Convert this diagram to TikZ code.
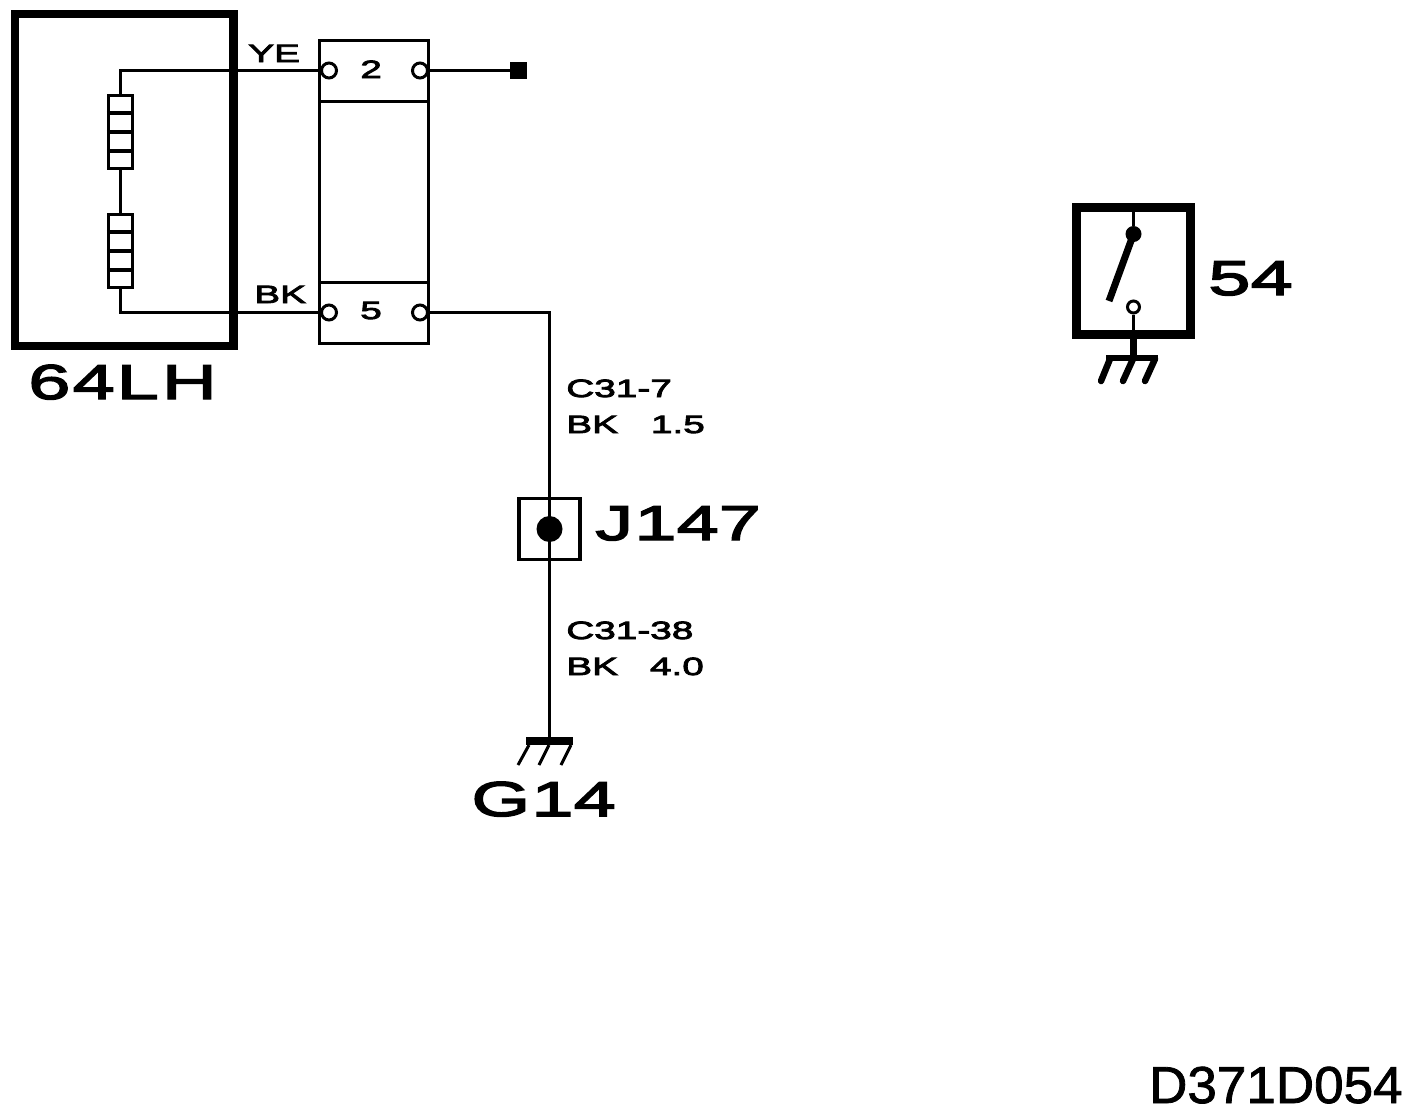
\documentclass[tikz,border=0pt]{standalone}
\usepackage{fontspec}
\setmainfont{Liberation Sans}
\newfontfamily\widefont[FakeStretch=1.55,FakeBold=3]{Liberation Sans}
\newfontfamily\smallfont[FakeStretch=1.55,FakeBold=3.5]{Liberation Sans}
\newfontfamily\numberfont[FakeStretch=1.02,FakeBold=1.5]{Liberation Sans}
\usetikzlibrary{calc}

\begin{document}
\begin{tikzpicture}[x=1pt,y=-1pt,line cap=butt,semithick]
  \tikzstyle{wire}=[line width=3pt]
  \tikzstyle{thick box}=[rectangle,draw=black,fill=none,line width=8.5pt,inner sep=0pt]
  \tikzstyle{resistor}=[rectangle,draw=black,fill=white,line width=3.3pt,inner sep=0pt,
                        minimum width=24pt,minimum height=73pt]
  \tikzstyle{block}=[rectangle,draw=black,fill=white,line width=3pt,inner sep=0pt,
                     minimum width=109pt,minimum height=303pt]
  \tikzstyle{pin}=[circle,draw=black,fill=white,line width=3pt,inner sep=0pt,minimum size=15pt]
  \tikzstyle{small label}=[anchor=base west,inner sep=0pt,text depth=0pt,
                           font=\smallfont\fontsize{25}{25}\selectfont]
  \tikzstyle{big label}=[anchor=base west,inner sep=0pt,text depth=0pt,
                         font=\widefont\fontsize{49}{49}\selectfont]

  \useasboundingbox (0,0) rectangle (1408,1114);

  % module with the two resistors
  \node[thick box,minimum width=218.5pt,minimum height=332pt] (module) at (124,180) {};
  \node[resistor] (resA) at (120.5,132) {};
  \node[resistor] (resB) at (120.5,251) {};
  \foreach \res in {resA,resB}
    \foreach \f in {0.25,0.5,0.75}
      \draw[line width=3.3pt] ($(\res.north west)!\f!(\res.south west)$) -- ($(\res.north east)!\f!(\res.south east)$);
  \node[big label] (moduleName) at (28,399) {6\kern2pt 4\kern2pt L\kern3pt H};

  % terminal block
  \node[block] (term) at (373.5,191.5) {};
  \draw[line width=3pt] (319,101) coordinate (divA) -- (divA -| term.east);
  \draw[line width=3pt] (319,282) coordinate (divB) -- (divB -| term.east);
  \node[pin] (pinYEin)  at (329,70.5) {};
  \node[pin] (pinYEout) at (420,70.5) {};
  \node[pin] (pinBKin)  at (329,312.5) {};
  \node[pin] (pinBKout) at (420,312.5) {};
  \node[small label] (numA) at (360,78) {2};
  \node[small label] (numB) at (360,319) {5};

  \draw[wire] (resA.north) |- (pinYEin.west);
  \draw[wire] (resA.south) -- (resB.north);
  \draw[wire] (resB.south) |- (pinBKin.west);
  \node[small label] (labYE) at (248,62) {YE};
  \node[small label] (labBK) at (254,303) {BK};

  % stub with the square end
  \node[rectangle,fill=black,inner sep=0pt,minimum size=17pt] (stub) at (518.5,70.5) {};
  \draw[wire] (pinYEout.east) -- (stub.west);

  % junction and ground
  \node[rectangle,draw=black,fill=white,line width=3.3pt,inner sep=0pt,minimum size=61pt] (junc) at (549.5,529) {};
  \node[circle,fill=black,inner sep=0pt,minimum size=26pt] (juncDot) at (549.5,529) {};
  \node[big label] (juncName) at (595,540) {J\kern1pt 147};
  \node[rectangle,fill=black,inner sep=0pt,minimum width=47pt,minimum height=8pt] (gnd) at (549.5,741) {};
  \draw[wire] (pinBKout.east) -| (junc.north);
  \draw[wire] (junc.north) -- (junc.south);
  \draw[wire] (junc.south) -- (gnd.north);
  \foreach \gx/\hx in {529/518,549/539,571/561}
    \draw[line width=3pt] (\gx,745) -- (\hx,765);
  \node[big label] (gndName) at (471,816) {G\kern1pt 14};

  \node[small label] (wireA) at (566,397) {C31-7};
  \node[small label] (wireB) at (566,433) {BK\hspace{33pt}1.5};
  \node[small label] (wireC) at (566,639) {C31-38};
  \node[small label] (wireD) at (566,675) {BK\hspace{32pt}4.0};

  % switch 54
  \node[thick box,line width=9pt,minimum width=114pt,minimum height=127pt] (sw) at (1133.5,271) {};
  \node[circle,fill=black,inner sep=0pt,minimum size=16pt] (swTop) at (1133.5,234) {};
  \node[circle,draw=black,fill=white,line width=3pt,inner sep=0pt,minimum size=12pt] (swBot) at (1133.5,307) {};
  \coordinate (bladeEnd) at (1109,301);
  \draw[wire] (sw.north) -- (swTop);
  \draw[line width=7pt] (swTop.center) -- (bladeEnd);
  \draw[wire] (swBot) -- (sw.south);
  \coordinate (swGnd) at (1133.5,358);
  \draw[line width=7pt] (sw.south) -- (swGnd);
  \draw[line width=5.5pt] (1106,358) -- (1158,358);
  \foreach \gx/\hx in {1110/1101,1133/1123,1155/1145}
    \draw[line width=6.5pt,line cap=round] (\gx,359) -- (\hx,381);
  \node[big label] (swName) at (1208,295) {54};

  % drawing number
  \node[anchor=base east,inner sep=0pt,text depth=0pt,font=\numberfont\fontsize{52}{52}\selectfont] (drawNo) at (1403,1103) {D371D054};
\end{tikzpicture}
\end{document}
